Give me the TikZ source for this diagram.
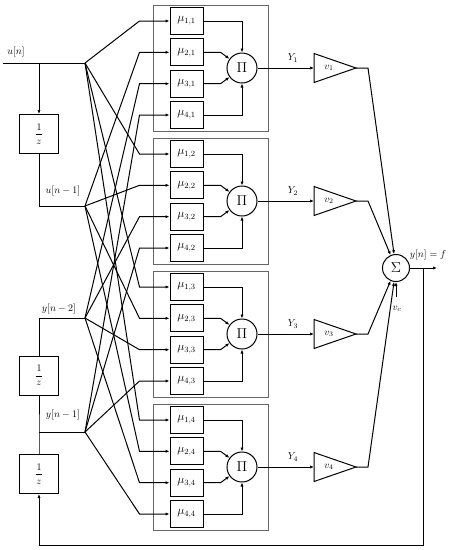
\documentclass[tikz,border=0pt]{standalone}
\usepackage{amsmath}
\usetikzlibrary{arrows.meta,calc}
\begin{document}
\begin{tikzpicture}[x=1pt,y=-1pt,
  wire/.style={line width=1pt},
  arr/.style={wire,-{Latex[length=4pt,width=3.2pt]}},
  grp/.style={draw=black!60,line width=0.9pt},
  mubox/.style={draw,line width=1pt,minimum width=33pt,minimum height=27pt,inner sep=0pt,font=\large},
  circ/.style={draw,circle,line width=1pt,minimum size=30pt,inner sep=0pt},
  delay/.style={draw,line width=1pt,minimum width=39pt,minimum height=39pt,inner sep=0pt},
  lbl/.style={inner sep=1pt}]
\useasboundingbox (0,0) rectangle (454,550);

% inputs and delay chain
\coordinate (in) at (3,63);
\coordinate (b1) at (85,63);
\coordinate (b2) at (85,206);
\coordinate (b3) at (85,318);
\coordinate (b4) at (85,432);
\coordinate (t1) at (39,63);
\coordinate (t2) at (39,206);
\coordinate (t3) at (39,318);
\coordinate (t4) at (39,432);
\node[delay] (d1) at (39,134) {$\dfrac{1}{z}$};
\node[delay] (d2) at (39,375.5) {$\dfrac{1}{z}$};
\node[delay] (d3) at (39,474) {$\dfrac{1}{z}$};

\draw[wire] (in) -- (b1);
\draw[arr] (t1) -- (d1.north);
\draw[wire] (d1.south) -- (t2) -- (b2);
\draw[wire] (d2.north) -- (t3) -- (b3);
\draw[wire] (d3.north) -- (t4) -- (d2.south);
\draw[wire] (t4) -- (b4);

\node[lbl] (lu0) at (16,52) {$u[n]$};
\node[lbl] (lu1) at (63,191) {$u[n-1]$};
\node[lbl] (ly2) at (59,309) {$y[n-2]$};
\node[lbl] (ly1) at (63,415) {$y[n-1]$};

% summation
\node[circ,minimum size=27pt] (s) at (396,268) {\Large$\Sigma$};
\coordinate (fb) at (423,268);
\coordinate (out) at (437,268);
\coordinate (fb2) at (423,545);
\coordinate (fb3) at (39,545);
\draw[arr] (s.east) -- (out);
\draw[arr] (fb) -- (fb2) -- (fb3) -- (d3.south);
\node[lbl] (ly) at (428,255) {$y[n]=f$};
\coordinate (vc) at (396,297);
\draw[arr] (vc) -- (s.south);
\node[lbl] (lvc) at (397,309) {$v_c$};

% rule groups
\foreach \j in {1,...,4} {
  \pgfmathsetmacro\dy{133*(\j-1)}
  \draw[grp] (153,{5+\dy}) rectangle (268,{131+\dy});
  \foreach \i/\yy in {1/21,2/52.3,3/83.7,4/115} {
    \node[mubox] (m\i\j) at (186.5,{\yy+\dy}) {$\mu_{\i,\j}$};
  }
  \node[circ] (p\j) at (242,{68+\dy}) {\Large$\Pi$};
  \draw[arr] (m1\j.east) -| (p\j.north);
  \draw[arr] (m4\j.east) -| (p\j.south);
  \draw[arr] (m2\j.east) -- ++(17,0) -- (p\j);
  \draw[arr] (m3\j.east) -- ++(17,0) -- (p\j);
  \coordinate (ti\j) at (314,{68+\dy});
  \coordinate (to\j) at (356,{68+\dy});
  \draw[wire] (314,{53.5+\dy}) -- (to\j) -- (314,{82.5+\dy}) -- cycle;
  \node[lbl] (v\j) at (329,{68+\dy}) {$v_{\j}$};
  \node[lbl] (Y\j) at (293,{58+\dy}) {$Y_{\j}$};
  \draw[arr] (p\j.east) -- (ti\j);
  \draw[arr] (to\j) -- ++(12,0) -- (s);
}

% fan-out from inputs to membership functions
\foreach \i in {1,...,4} {
  \foreach \j in {1,...,4} {
    \draw[arr] (b\i) -- ($(m\i\j.west)+(-30,0)$) -- (m\i\j.west);
  }
}
\end{tikzpicture}
\end{document}
